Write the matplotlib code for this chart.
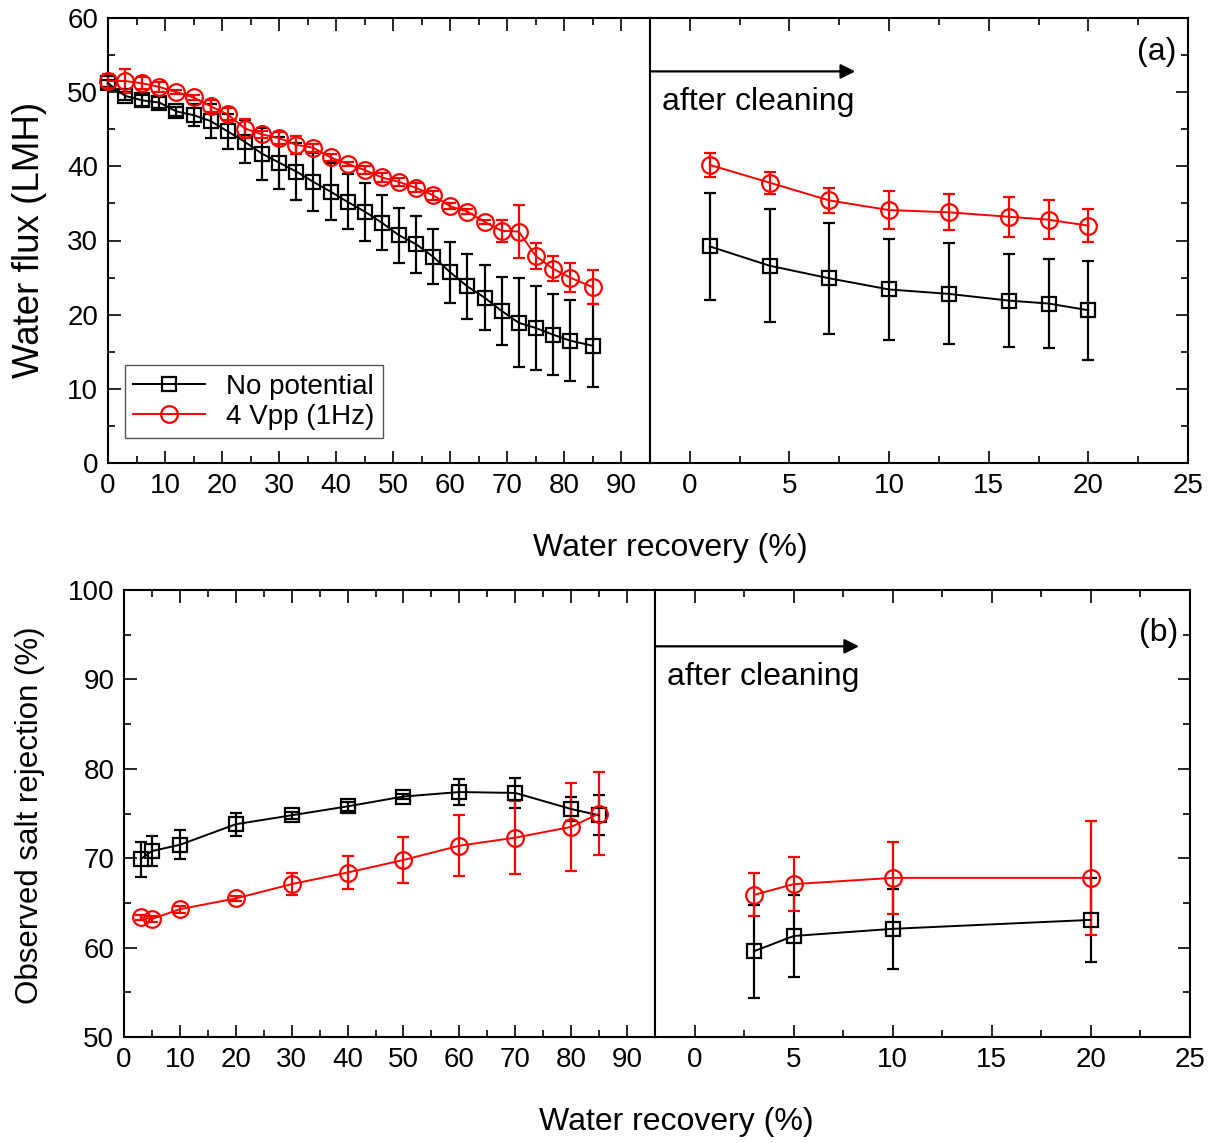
import matplotlib
matplotlib.use("Agg")
import matplotlib.pyplot as plt
from matplotlib.lines import Line2D
from matplotlib.ticker import MultipleLocator

plt.rcParams["font.family"] = ["Liberation Sans", "DejaVu Sans"]

# (a) water flux, before cleaning
rec_a = [0, 3, 6, 9, 12, 15, 18, 21, 24, 27, 30, 33, 36, 39, 42, 45, 48, 51, 54,
         57, 60, 63, 66, 69, 72, 75, 78, 81, 85]
flux_np = [51.2, 49.5, 48.9, 48.6, 47.4, 46.9, 46.1, 44.7, 43.3, 41.7, 40.5, 39.3,
           37.9, 36.6, 35.2, 33.9, 32.4, 30.7, 29.5, 27.8, 25.7, 23.8, 22.3, 20.5,
           18.9, 18.2, 17.3, 16.5, 15.8]
flux_np_err = [0.5, 0.5, 0.7, 0.7, 0.6, 1.5, 2.3, 2.4, 2.9, 3.5, 3.5, 3.9, 3.9, 3.8,
               3.7, 3.9, 3.7, 3.7, 3.85, 3.7, 4.1, 4.4, 4.4, 4.6, 6.0, 5.7, 5.5,
               5.5, 5.6]
flux_4v = [51.5, 51.5, 51.2, 50.7, 50.0, 49.3, 48.1, 47.0, 45.1, 44.3, 43.8, 42.9,
           42.5, 41.2, 40.3, 39.5, 38.5, 37.9, 37.1, 36.1, 34.6, 33.9, 32.5, 31.3,
           31.2, 27.9, 26.2, 25.0, 23.7]
flux_4v_err = [1.0, 1.6, 0.8, 0.7, 0.3, 0.3, 0.8, 0.8, 1.3, 0.5, 0.8, 1.2, 0.5, 0.5,
               0.3, 0.6, 0.6, 0.5, 0.6, 0.6, 0.4, 0.3, 0.3, 1.5, 3.6, 1.7, 1.7,
               1.9, 2.3]

# (a) water flux, after cleaning
rec_a_cl = [1, 4, 7, 10, 13, 16, 18, 20]
flux_np_cl = [29.2, 26.6, 24.9, 23.4, 22.8, 21.9, 21.5, 20.6]
flux_np_cl_err = [7.2, 7.6, 7.5, 6.85, 6.8, 6.3, 6.0, 6.7]
flux_4v_cl = [40.2, 37.8, 35.4, 34.1, 33.8, 33.2, 32.8, 32.0]
flux_4v_cl_err = [1.6, 1.5, 1.7, 2.6, 2.45, 2.7, 2.6, 2.2]

# (b) salt rejection, before cleaning
rec_b = [3, 5, 10, 20, 30, 40, 50, 60, 70, 80, 85]
rej_np = [69.9, 70.8, 71.5, 73.8, 74.8, 75.8, 76.9, 77.4, 77.3, 75.5, 74.8]
rej_np_err = [1.95, 1.7, 1.6, 1.3, 0.4, 0.5, 0.3, 1.45, 1.7, 1.3, 2.25]
rej_4v = [63.4, 63.2, 64.3, 65.5, 67.1, 68.4, 69.8, 71.4, 72.3, 73.5, 75.0]
rej_4v_err = [0.3, 0.3, 0.4, 0.3, 1.2, 1.8, 2.55, 3.4, 4.1, 4.9, 4.6]

# (b) salt rejection, after cleaning
rec_b_cl = [3, 5, 10, 20]
rej_np_cl = [59.6, 61.3, 62.1, 63.1]
rej_np_cl_err = [5.2, 4.6, 4.45, 4.7]
rej_4v_cl = [65.9, 67.1, 67.8, 67.8]
rej_4v_cl_err = [2.4, 3.05, 4.05, 6.4]

labels = ["No potential", "4 Vpp (1Hz)"]

W, H = 1216, 1143
fig = plt.figure(figsize=(W / 100, H / 100), dpi=100)


def px_rect(x0, x1, y0, y1):
    return [x0 / W, 1 - y1 / H, (x1 - x0) / W, (y1 - y0) / H]


ax_a1 = fig.add_axes(px_rect(108, 650, 18, 463))
ax_a2 = fig.add_axes(px_rect(650, 1188, 18, 463))
ax_b1 = fig.add_axes(px_rect(124, 655, 590, 1037))
ax_b2 = fig.add_axes(px_rect(655, 1190, 590, 1037))

TICK_FS = 20
LABEL_FS = 23
SQ_MS = 10
CI_MS = 12


def series(ax, x, y, err, color, marker, ms):
    ax.errorbar(x, y, yerr=err, color=color, marker=marker, ms=ms, mfc="none",
                mec=color, mew=1.6, lw=1.4, elinewidth=1.6, capsize=4.5,
                capthick=1.6, clip_on=False, zorder=3)


def style(ax, left):
    for s in ax.spines.values():
        s.set_linewidth(1.5)
    ax.tick_params(which="both", direction="in", width=1.2, labelsize=TICK_FS,
                   top=True, bottom=True, left=left, right=not left,
                   labelleft=left, labelright=False, pad=7)
    ax.tick_params(which="major", length=9)
    ax.tick_params(which="minor", length=5)


series(ax_a1, rec_a, flux_np, flux_np_err, "black", "s", SQ_MS)
series(ax_a1, rec_a, flux_4v, flux_4v_err, "red", "o", CI_MS)
series(ax_a2, rec_a_cl, flux_np_cl, flux_np_cl_err, "black", "s", SQ_MS)
series(ax_a2, rec_a_cl, flux_4v_cl, flux_4v_cl_err, "red", "o", CI_MS)
series(ax_b1, rec_b, rej_np, rej_np_err, "black", "s", SQ_MS)
series(ax_b1, rec_b, rej_4v, rej_4v_err, "red", "o", CI_MS)
series(ax_b2, rec_b_cl, rej_np_cl, rej_np_cl_err, "black", "s", SQ_MS)
series(ax_b2, rec_b_cl, rej_4v_cl, rej_4v_cl_err, "red", "o", CI_MS)

for ax in (ax_a1, ax_a2):
    ax.set_ylim(0, 60)
    ax.yaxis.set_major_locator(MultipleLocator(10))
    ax.yaxis.set_minor_locator(MultipleLocator(5))
for ax in (ax_b1, ax_b2):
    ax.set_ylim(50, 100)
    ax.yaxis.set_major_locator(MultipleLocator(10))
    ax.yaxis.set_minor_locator(MultipleLocator(5))
for ax in (ax_a1, ax_b1):
    ax.set_xlim(0, 95)
    ax.set_xticks(range(0, 91, 10))
    ax.set_xticks(range(5, 91, 10), minor=True)
    style(ax, True)
for ax in (ax_a2, ax_b2):
    ax.set_xlim(-2, 25)
    ax.set_xticks(range(0, 26, 5))
    ax.set_xticks([2.5, 7.5, 12.5, 17.5, 22.5], minor=True)
    style(ax, False)

handles = [Line2D([], [], color="black", marker="s", ms=SQ_MS, mfc="none",
                  mew=1.6, lw=1.4),
           Line2D([], [], color="red", marker="o", ms=CI_MS, mfc="none",
                  mew=1.6, lw=1.4)]
ax_a1.legend(handles, labels, loc="lower left", bbox_to_anchor=(0.031, 0.056),
             borderaxespad=0, fontsize=20, fancybox=False, edgecolor="#555555",
             framealpha=1, handlelength=2.6, handletextpad=0.75, borderpad=0.3,
             labelspacing=0.15)

for ax, y_arrow, y_text, tag, y_tag in ((ax_a2, 52.8, 48.7, "(a)", 55.4),
                                        (ax_b2, 93.7, 90.3, "(b)", 95.2)):
    ax.annotate("", xy=(8.3, y_arrow), xytext=(-2, y_arrow),
                arrowprops=dict(arrowstyle="-|>", lw=1.6, color="black",
                                mutation_scale=22, shrinkA=0, shrinkB=0))
    ax.text(-1.4, y_text, "after cleaning", fontsize=LABEL_FS, va="center",
            ha="left")
    ax.text(24.4, y_tag, tag, fontsize=LABEL_FS, va="center", ha="right")

fig.text(670 / W, 1 - 548 / H, "Water recovery (%)", fontsize=LABEL_FS,
         ha="center", va="center")
fig.text(676 / W, 1 - 1122 / H, "Water recovery (%)", fontsize=LABEL_FS,
         ha="center", va="center")
fig.text(30 / W, 1 - 240 / H, "Water flux (LMH)", fontsize=26.5,
         rotation=90, ha="center", va="center")
fig.text(30 / W, 1 - 815 / H, "Observed salt rejection (%)", fontsize=22.5,
         rotation=90, ha="center", va="center")

fig.savefig("out.png", dpi=100)
